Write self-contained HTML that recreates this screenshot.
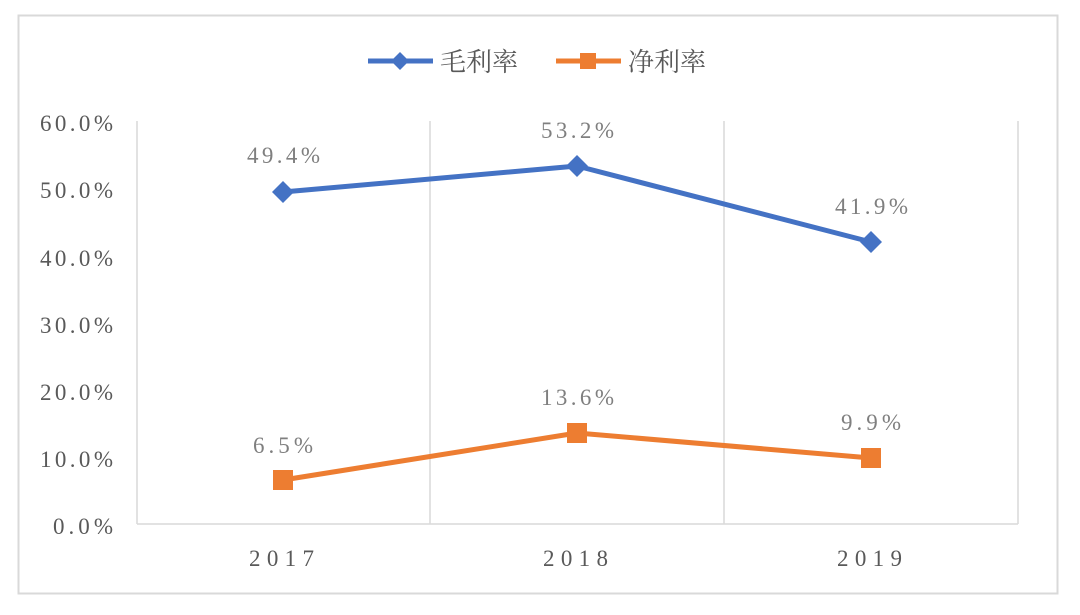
<!DOCTYPE html>
<html><head><meta charset="utf-8"><style>
body{margin:0;background:#fff}
svg text{font-family:"Liberation Serif","Noto Serif CJK SC",serif}
</style></head><body>
<svg width="1080" height="610" xmlns="http://www.w3.org/2000/svg">
<rect x="0" y="0" width="1080" height="610" fill="#fff"/>
<rect x="18.5" y="15.5" width="1039" height="578" fill="none" stroke="#d9d9d9" stroke-width="2"/>
<g stroke="#d9d9d9" stroke-width="1.5">
<line x1="137" y1="121" x2="137" y2="524"/>
<line x1="430" y1="121" x2="430" y2="524"/>
<line x1="724" y1="121" x2="724" y2="524"/>
<line x1="1018" y1="121" x2="1018" y2="524"/>
<line x1="137" y1="524" x2="1018" y2="524"/>
</g>
<g fill="#595959" font-size="23">
<text x="40" y="131" textLength="73" lengthAdjust="spacing">60.0%</text>
<text x="40" y="198" textLength="73" lengthAdjust="spacing">50.0%</text>
<text x="40" y="266" textLength="73" lengthAdjust="spacing">40.0%</text>
<text x="40" y="333" textLength="73" lengthAdjust="spacing">30.0%</text>
<text x="40" y="400" textLength="73" lengthAdjust="spacing">20.0%</text>
<text x="40" y="467" textLength="73" lengthAdjust="spacing">10.0%</text>
<text x="53" y="534" textLength="60" lengthAdjust="spacing">0.0%</text>
</g>
<g fill="#595959" font-size="23">
<text x="249" y="566" textLength="65" lengthAdjust="spacing">2017</text>
<text x="543" y="566" textLength="65" lengthAdjust="spacing">2018</text>
<text x="837" y="566" textLength="65" lengthAdjust="spacing">2019</text>
</g>
<polyline points="283,192 577,166 871,242" fill="none" stroke="#4472c4" stroke-width="5" stroke-linejoin="round"/>
<g fill="#4472c4">
<polygon points="283,181 294,192 283,203 272,192"/>
<polygon points="577,155 588,166 577,177 566,166"/>
<polygon points="871,231 882,242 871,253 860,242"/>
</g>
<polyline points="283,480 577,433 871,458" fill="none" stroke="#ed7d31" stroke-width="5" stroke-linejoin="round"/>
<g fill="#ed7d31">
<rect x="273" y="470" width="20" height="20"/>
<rect x="567" y="423" width="20" height="20"/>
<rect x="861" y="448" width="20" height="20"/>
</g>
<g fill="#7f7f7f" font-size="23">
<text x="247" y="163" textLength="73" lengthAdjust="spacing">49.4%</text>
<text x="541" y="138" textLength="73" lengthAdjust="spacing">53.2%</text>
<text x="835" y="214" textLength="73" lengthAdjust="spacing">41.9%</text>
<text x="253" y="453" textLength="60" lengthAdjust="spacing">6.5%</text>
<text x="541" y="405" textLength="73" lengthAdjust="spacing">13.6%</text>
<text x="841" y="430" textLength="60" lengthAdjust="spacing">9.9%</text>
</g>
<line x1="368" y1="61" x2="433" y2="61" stroke="#4472c4" stroke-width="5"/>
<polygon points="400,52 409,61 400,70 391,61" fill="#4472c4"/>
<text x="440" y="71" font-size="26" fill="#595959">毛利率</text>
<line x1="556" y1="61" x2="621" y2="61" stroke="#ed7d31" stroke-width="5"/>
<rect x="580" y="53" width="16" height="16" fill="#ed7d31"/>
<text x="628" y="71" font-size="26" fill="#595959">净利率</text>
</svg>
</body></html>
